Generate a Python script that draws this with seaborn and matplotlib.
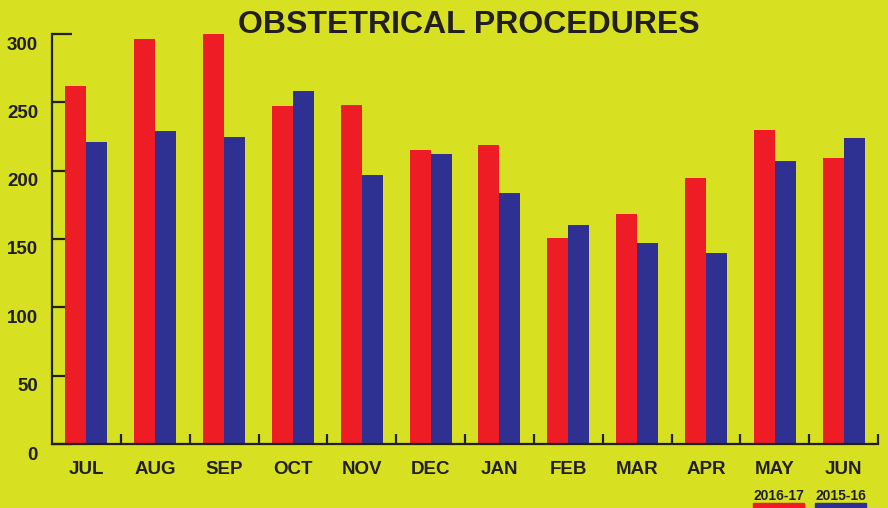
import pandas as pd
import matplotlib.pyplot as plt
import matplotlib.transforms as mtransforms
from matplotlib.patches import Rectangle
import seaborn as sns

# Monthly counts
months = ['JUL', 'AUG', 'SEP', 'OCT', 'NOV', 'DEC', 'JAN', 'FEB', 'MAR', 'APR', 'MAY', 'JUN']
fy_2016_17 = [262, 296, 300, 247, 248, 215, 219, 151, 168, 195, 230, 209]
fy_2015_16 = [221, 229, 225, 258, 197, 212, 184, 160, 147, 140, 207, 224]
series = ['2016-17', '2015-16']

bg = '#d8e022'
red = '#ee1d25'
blue = '#2e3192'
ink = '#231f20'

df = pd.DataFrame({
    'Month': months * 2,
    'Count': fy_2016_17 + fy_2015_16,
    'Year': [series[0]] * len(months) + [series[1]] * len(months),
})

sns.set_style('ticks')
plt.rcParams['font.family'] = ['Liberation Sans', 'DejaVu Sans']
plt.rcParams['font.weight'] = 'bold'

fig = plt.figure(figsize=(8.88, 5.08), dpi=100, facecolor=bg)
ax = fig.add_axes([52 / 888, 1 - 444 / 508, (878 - 52) / 888, (444 - 34) / 508])
ax.set_facecolor(bg)

sns.barplot(data=df, x='Month', y='Count', hue='Year', order=months,
            hue_order=series, palette=[red, blue], width=0.61,
            saturation=1, linewidth=0, ax=ax, legend=False)

ax.set_xlim(-0.5, len(months) - 0.5)
ax.set_ylim(0, 300)
ax.set_yticks(range(0, 301, 50))
ax.set_xlabel('')
ax.set_ylabel('')
ax.set_axisbelow(True)

for side in ['top', 'right']:
    ax.spines[side].set_visible(False)
for side in ['left', 'bottom']:
    ax.spines[side].set_color(ink)
    ax.spines[side].set_linewidth(1.6)
    ax.spines[side].set_zorder(3)

# y ticks point into the plot, labels sit a little below their tick
ax.tick_params(axis='y', direction='in', length=14.5, width=1.6, color=ink,
               labelsize=13.5, labelcolor=ink, pad=10)
shift = mtransforms.ScaledTranslation(0, -9 / 100, fig.dpi_scale_trans)
for lab in ax.get_yticklabels():
    lab.set_transform(lab.get_transform() + shift)
    lab.set_fontweight('bold')

# month labels at centres, small ticks at the group boundaries
ax.tick_params(axis='x', which='major', length=0, labelsize=13.5,
               labelcolor=ink, pad=12)
for lab in ax.get_xticklabels():
    lab.set_fontweight('bold')
ax.set_xticks([i + 0.5 for i in range(len(months))], minor=True)
ax.tick_params(axis='x', which='minor', direction='in', length=7, width=1.6, color=ink)

fig.text(468.5 / 888, 1 - 33 / 508, 'OBSTETRICAL PROCEDURES', ha='center',
         va='baseline', fontsize=23, fontweight='bold', color=ink)

# legend: label text over a colour strip, bottom right
for name, col, x0 in [(series[0], red, 753), (series[1], blue, 815)]:
    fig.text(x0 / 888, 1 - 500 / 508, name, ha='left', va='baseline',
             fontsize=10, fontweight='bold', color=ink)
    fig.patches.append(Rectangle((x0 / 888, 0), 51 / 888, 5 / 508,
                                 transform=fig.transFigure, color=col))

fig.savefig('out.png', dpi=100, facecolor=bg)
